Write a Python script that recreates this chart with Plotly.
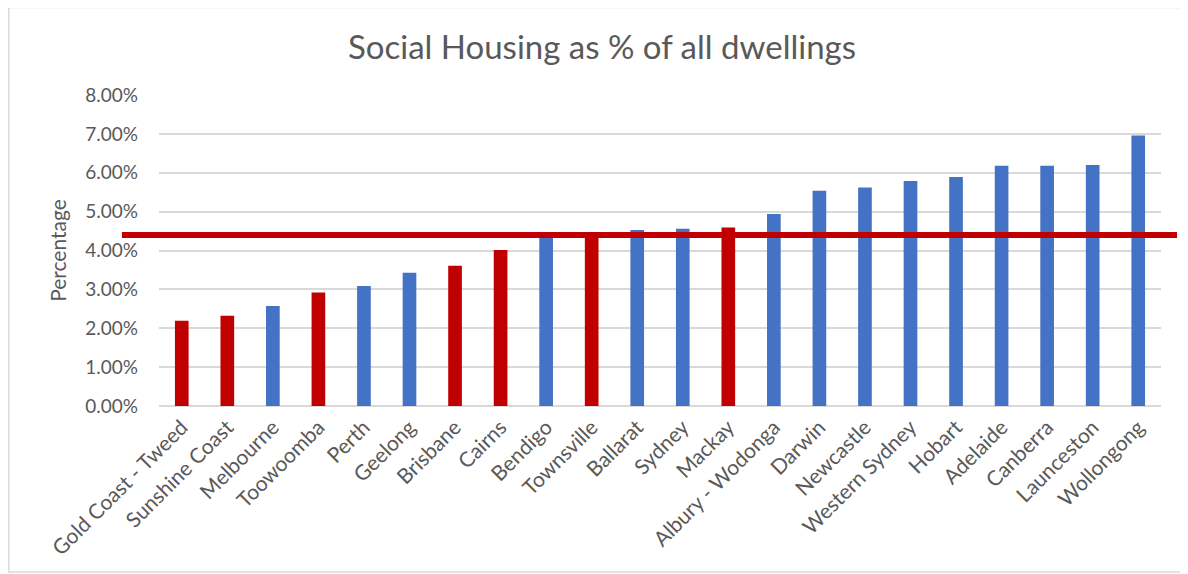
import plotly.graph_objects as go

categories = ["Gold Coast - Tweed", "Sunshine Coast", "Melbourne", "Toowoomba", "Perth",
              "Geelong", "Brisbane", "Cairns", "Bendigo", "Townsville", "Ballarat", "Sydney",
              "Mackay", "Albury - Wodonga", "Darwin", "Newcastle", "Western Sydney", "Hobart",
              "Adelaide", "Canberra", "Launceston", "Wollongong"]
values = [2.19, 2.32, 2.57, 2.92, 3.09, 3.43, 3.61, 4.01, 4.35, 4.42, 4.53, 4.56,
          4.59, 4.94, 5.54, 5.62, 5.79, 5.89, 6.18, 6.18, 6.20, 6.96]
highlighted = [True, True, False, True, False, False, True, True, False, True, False, False,
               True, False, False, False, False, False, False, False, False, False]
average = 4.40
y_ticks = [0, 1, 2, 3, 4, 5, 6, 7, 8]
y_tick_labels = ["0.00%", "1.00%", "2.00%", "3.00%", "4.00%", "5.00%", "6.00%", "7.00%", "8.00%"]

RED = "#C00000"
BLUE = "#4472C4"
GREY_TXT = "#595959"

colors = [RED if h else BLUE for h in highlighted]

fig = go.Figure()
fig.add_trace(go.Bar(x=categories, y=values, marker=dict(color=colors, line=dict(width=0)),
                     showlegend=False))

# average line (drawn above bars, extending past plot area)
fig.add_shape(type="line", xref="paper", yref="y", x0=-0.037, x1=1.016,
              y0=average, y1=average, line=dict(color=RED, width=6), layer="above")

# chart border
fig.add_shape(type="rect", xref="paper", yref="paper", x0=-0.150, x1=1.024,
              y0=-0.534, y1=1.281, line=dict(color="#D9D9D9", width=1.5), layer="below")

fig.update_layout(
    width=1188, height=574,
    margin=dict(l=151, r=35, t=87, b=176),
    paper_bgcolor="white", plot_bgcolor="white",
    bargap=0.7,
    font=dict(family="Lato", color=GREY_TXT),
    title=dict(text="Social Housing as % of all dwellings", x=0.5, xanchor="center",
               y=1 - 39 / 574, yanchor="middle", font=dict(size=33, color=GREY_TXT)),
)
fig.update_xaxes(tickangle=-45, tickfont=dict(size=21, color=GREY_TXT), showgrid=False,
                 showline=False, ticks="", ticklabelstandoff=4)
fig.update_yaxes(range=[0, 8], tickvals=y_ticks, ticktext=y_tick_labels,
                 tickfont=dict(size=19, color=GREY_TXT), gridcolor="#D9D9D9", gridwidth=1.5,
                 zeroline=True, zerolinecolor="#D9D9D9", zerolinewidth=1.5,
                 ticklabelstandoff=20,
                 title=dict(text="Percentage", font=dict(size=21, color=GREY_TXT), standoff=12))

fig.write_html("out.html")
